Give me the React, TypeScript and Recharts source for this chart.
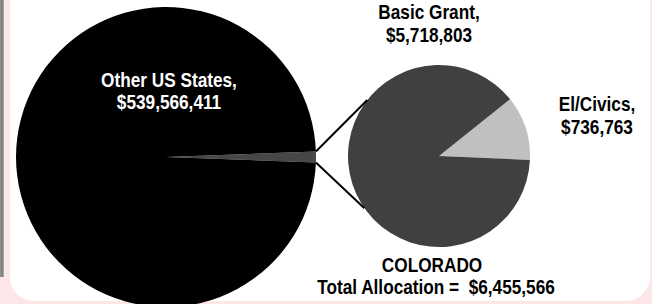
import { PieChart, Pie, Cell } from "recharts";

// US allocation: Colorado vs the rest
const usNames = ["COLORADO", "Other US States"];
const usValues = [6455566, 539566411];
const usColors = ["#474747", "#000000"];

// Colorado breakdown
const coNames = ["El/Civics", "Basic Grant"];
const coValues = [736763, 5718803];
const coColors = ["#c0c0c0", "#404040"];

const W = 652;
const H = 304;

const BIG = { cx: 166, cy: 157, r: 150 };
const SMALL = { cx: 439, cy: 156, r: 91 };
const SMALL_START = -2.5;
const LINK_ANGLES = [142, -145];

const FONT = "'Liberation Sans', Arial, sans-serif";

const usData = usNames.map((name, i) => ({ name, value: usValues[i] }));
const coData = coNames.map((name, i) => ({ name, value: coValues[i] }));

const usTotal = usValues.reduce((a, b) => a + b, 0);
const coShare = (usValues[0] / usTotal) * 360;
const bigStart = -coShare / 2;

const money = (v: number) => "$" + v.toLocaleString("en-US");
const rad = (d: number) => (d * Math.PI) / 180;
const pt = (c: { cx: number; cy: number; r: number }, a: number) => ({
  x: c.cx + c.r * Math.cos(rad(a)),
  y: c.cy - c.r * Math.sin(rad(a)),
});

// narrow bold text, squeezed like Arial Narrow
function Label({ x, y, fill, children }: { x: number; y: number; fill: string; children: string }) {
  return (
    <text
      transform={`translate(${x},${y}) scale(0.82,1)`}
      fontFamily={FONT}
      fontWeight={700}
      fontSize={21}
      textAnchor="middle"
      fill={fill}
      style={{ whiteSpace: "pre" }}
    >
      {children}
    </text>
  );
}

function Overlay() {
  const a = pt(BIG, bigStart + coShare);
  const b = pt(BIG, bigStart);
  const ta = pt(SMALL, LINK_ANGLES[0]);
  const tb = pt(SMALL, LINK_ANGLES[1]);
  const coTotal = coValues.reduce((s, v) => s + v, 0);
  return (
    <svg width={W} height={H} style={{ position: "absolute", left: 0, top: 0 }}>
      <line x1={a.x} y1={a.y} x2={ta.x} y2={ta.y} stroke="#000" strokeWidth={2} />
      <line x1={b.x} y1={b.y} x2={tb.x} y2={tb.y} stroke="#000" strokeWidth={2} />

      <Label x={169} y={87} fill="#fff">{usNames[1] + ","}</Label>
      <Label x={169} y={109} fill="#fff">{money(usValues[1])}</Label>

      <Label x={429} y={19} fill="#000">{coNames[1] + ","}</Label>
      <Label x={429} y={42} fill="#000">{money(coValues[1])}</Label>

      <Label x={597} y={111} fill="#000">{coNames[0] + ","}</Label>
      <Label x={597} y={134} fill="#000">{money(coValues[0])}</Label>

      <Label x={432} y={272} fill="#000">{usNames[0]}</Label>
      <Label x={436} y={294} fill="#000">{"Total Allocation =  " + money(coTotal)}</Label>
    </svg>
  );
}

export default function App() {
  return (
    <div style={{ position: "fixed", left: 0, top: 0, width: W, height: H, background: "#fde6e8", overflow: "hidden" }}>
      <div
        style={{
          position: "absolute",
          left: 0,
          top: 0,
          width: 4,
          height: 277,
          background: "linear-gradient(to right, #9a9a9a, #777 50%, #b0b0b0)",
        }}
      />
      <div
        style={{
          position: "absolute",
          left: 10,
          top: -30,
          width: 640,
          height: 331,
          background: "#fff",
          borderRadius: 24,
        }}
      />
      <div style={{ position: "absolute", left: 0, top: 0 }}>
        <PieChart width={W} height={H} margin={{ top: 0, right: 0, bottom: 0, left: 0 }}>
          <Pie
            data={usData}
            dataKey="value"
            cx={BIG.cx}
            cy={BIG.cy}
            outerRadius={BIG.r}
            startAngle={bigStart}
            endAngle={bigStart + 360}
            stroke="none"
            isAnimationActive={false}
          >
            {usData.map((_, i) => (
              <Cell key={i} fill={usColors[i]} />
            ))}
          </Pie>
          <Pie
            data={coData}
            dataKey="value"
            cx={SMALL.cx}
            cy={SMALL.cy}
            outerRadius={SMALL.r}
            startAngle={SMALL_START}
            endAngle={SMALL_START + 360}
            stroke="none"
            isAnimationActive={false}
          >
            {coData.map((_, i) => (
              <Cell key={i} fill={coColors[i]} />
            ))}
          </Pie>
        </PieChart>
      </div>
      <Overlay />
    </div>
  );
}
